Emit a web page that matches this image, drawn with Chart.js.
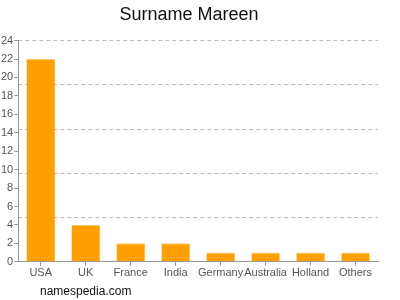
<!DOCTYPE html>
<html>
<head>
<meta charset="utf-8">
<script src="https://cdn.jsdelivr.net/npm/chart.js@4/dist/chart.umd.min.js"></script>
<style>
  html, body { margin: 0; padding: 0; background: #fff; }
  #wrap { position: relative; width: 400px; height: 300px; }
  #site { position: absolute; left: 40px; top: 284px; font: 12px "Liberation Sans", Arial, sans-serif; color: #111; }
</style>
</head>
<body>
<div id="wrap">
  <canvas id="chart" width="400" height="300"></canvas>
  <div id="site">namespedia.com</div>
</div>
<script>
const countries = ['USA', 'UK', 'France', 'India', 'Germany', 'Australia', 'Holland', 'Others'];
const counts = [22, 4, 2, 2, 1, 1, 1, 1];
const yMax = 24;
const yStep = 2;
const gridStep = 4.8; // dashed lines split the axis in 5

const ctx = document.getElementById('chart').getContext('2d');
new Chart(ctx, {
  type: 'bar',
  data: {
    labels: countries,
    datasets: [{
      data: counts,
      backgroundColor: '#ffa000',
      borderColor: '#ffc560',
      borderWidth: { top: 1, left: 0, right: 0, bottom: 0 },
      borderSkipped: 'bottom',
      categoryPercentage: 0.63,
      barPercentage: 1,
    }],
  },
  options: {
    responsive: false,
    animation: false,
    layout: { padding: { left: 0, right: 22, top: 0, bottom: 19 } },
    plugins: {
      legend: { display: false },
      tooltip: { enabled: false },
      title: {
        display: true,
        text: 'Surname Mareen',
        color: '#111',
        font: { family: '"Liberation Sans", Arial, sans-serif', size: 18, weight: 'normal' },
        padding: { top: 4, bottom: 15 },
      },
    },
    scales: {
      x: {
        offset: true,
        grid: { offset: false, drawOnChartArea: false, drawTicks: true, tickLength: 4, color: '#999' },
        border: { color: '#999' },
        ticks: { color: '#555', font: { family: '"Liberation Sans", Arial, sans-serif', size: 11 }, padding: 1, maxRotation: 0, autoSkip: false },
      },
      y: {
        min: 0,
        max: yMax,
        grid: { drawOnChartArea: false, drawTicks: true, tickLength: 4, color: '#999' },
        border: { color: '#999' },
        ticks: { stepSize: yStep, color: '#555', font: { family: '"Liberation Sans", Arial, sans-serif', size: 11 }, padding: 1 },
      },
      y2: {
        position: 'right',
        min: 0,
        max: yMax,
        grid: { drawTicks: false, color: '#bbb' },
        border: { display: false, dash: [4, 3] },
        ticks: { stepSize: gridStep, display: false },
      },
    },
  },
});
</script>
</body>
</html>
